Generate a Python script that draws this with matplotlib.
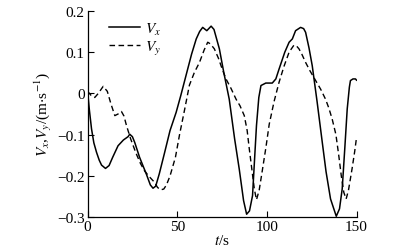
import matplotlib
matplotlib.use("Agg")
import matplotlib.pyplot as plt

plt.rcParams['font.family'] = ['Liberation Serif', 'DejaVu Serif']
plt.rcParams['mathtext.fontset'] = 'stix'

t_x = [0, 1, 2.2, 3.5, 5, 6.5, 7.8, 10, 12, 14, 17, 20, 22.6, 23.5, 25, 26.3, 29, 32.8, 35,
       36.5, 38, 40, 43, 46, 49.4, 52, 55, 58, 60.6, 62.5, 64.2, 66.5, 68.9, 70.5, 73.5, 76,
       79, 82, 84.6, 87, 88.7, 90.3, 92, 93, 94.2, 95.5, 96.7, 99.4, 103, 105, 106.8, 110,
       112.4, 114.2, 116, 118.8, 120.5, 121.6, 123.5, 125.3, 128, 130.9, 133, 135.5, 138.7,
       140.5, 142, 143.5, 144.8, 146, 146.6, 148, 149.4, 150]
v_x = [0.005, -0.04, -0.086, -0.12, -0.143, -0.162, -0.174, -0.182, -0.175, -0.155, -0.127,
       -0.113, -0.105, -0.099, -0.105, -0.119, -0.155, -0.196, -0.222, -0.23, -0.225, -0.195,
       -0.143, -0.09, -0.046, -0.005, 0.045, 0.095, 0.132, 0.15, 0.16, 0.152, 0.163, 0.155,
       0.108, 0.05, -0.014, -0.11, -0.184, -0.26, -0.293, -0.285, -0.248, -0.17, -0.078, -0.01,
       0.019, 0.025, 0.025, 0.035, 0.059, 0.1, 0.124, 0.132, 0.152, 0.16, 0.157, 0.148, 0.11,
       0.067, -0.02, -0.119, -0.19, -0.256, -0.298, -0.28, -0.232, -0.13, -0.038, 0.015, 0.031,
       0.035, 0.035, 0.032]

t_y = [0, 2, 4, 6, 8.7, 11, 13, 15.2, 17, 18.9, 20.3, 21.7, 24, 27, 29.5, 31.8, 34, 37.4, 39,
       40.7, 42.5, 44, 46, 49, 51.3, 54, 56.8, 59.5, 62.4, 65, 67, 68.5, 70.7, 73, 75, 77.2, 80,
       82.8, 85, 87.4, 89, 90.2, 91.5, 93, 94.2, 95.7, 97.6, 99.5, 101.3, 104, 106.8, 109.5,
       112.4, 115.1, 116.5, 117.9, 119.5, 121.6, 124, 127.2, 130, 132.7, 134.5, 136.4, 138.5,
       140.1, 141.5, 142.9, 144.2, 145.5, 147.5, 149, 150]
v_y = [0.005, -0.005, -0.01, 0.0, 0.017, 0.005, -0.025, -0.054, -0.05, -0.044, -0.055, -0.078,
       -0.11, -0.145, -0.17, -0.188, -0.2, -0.216, -0.228, -0.234, -0.232, -0.222, -0.2, -0.155,
       -0.1, -0.042, 0.02, 0.05, 0.075, 0.105, 0.124, 0.12, 0.108, 0.085, 0.06, 0.035, 0.012,
       -0.014, -0.03, -0.054, -0.09, -0.135, -0.18, -0.232, -0.258, -0.235, -0.183, -0.13,
       -0.075, -0.02, 0.027, 0.065, 0.1, 0.117, 0.115, 0.108, 0.095, 0.075, 0.055, 0.031, 0.01,
       -0.014, -0.035, -0.062, -0.1, -0.151, -0.2, -0.24, -0.256, -0.235, -0.183, -0.14, -0.107]

x_ticks = [0, 50, 100, 150]
y_ticks = [-0.3, -0.2, -0.1, 0, 0.1, 0.2]
y_tick_labels = ['\u22120.3', '\u22120.2', '\u22120.1', '0', '0.1', '0.2']

fig = plt.figure(figsize=(4.17, 2.53), dpi=100)
ax = fig.add_axes([0.210, 0.138, 0.645, 0.815])

ax.plot(t_x, v_x, color='black', lw=1.1, ls='-', label='$V_x$')
ax.plot(t_y, v_y, color='black', lw=1.0, ls=(0, (4, 2.5)), label='$V_y$')

ax.set_xlim(0, 150)
ax.set_ylim(-0.3, 0.2)
ax.set_xticks(x_ticks)
ax.set_xticklabels([str(v) for v in x_ticks])
ax.set_yticks(y_ticks)
ax.set_yticklabels(y_tick_labels)
ax.tick_params(direction='in', length=4, width=0.8, labelsize=11, pad=2)
ax.spines['top'].set_visible(False)
ax.spines['right'].set_visible(False)
for s in ['left', 'bottom']:
    ax.spines[s].set_linewidth(0.9)

ax.set_xlabel('$t$/s', fontsize=11, labelpad=0)
ax.set_ylabel('$V_x$,$V_y$/(m$\\cdot$s$^{-1}$)', fontsize=11, labelpad=2)

ax.legend(loc='upper left', bbox_to_anchor=(0.03, 1.02), frameon=False, fontsize=11,
          handlelength=2.0, handletextpad=0.3, labelspacing=0.15)

fig.savefig('out.png', dpi=100)
